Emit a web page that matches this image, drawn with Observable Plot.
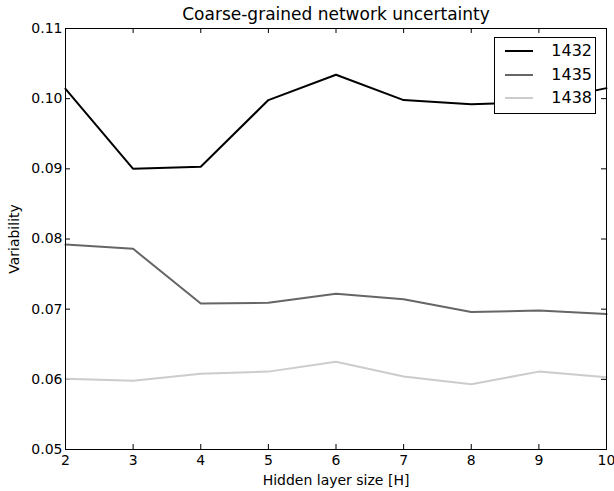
<!DOCTYPE html>
<html>
<head>
<meta charset="utf-8">
<script src="https://cdn.jsdelivr.net/npm/d3@7"></script>
<script src="https://cdn.jsdelivr.net/npm/@observablehq/plot@0.6"></script>
<style>
  html, body { margin: 0; padding: 0; background: #fff; }
  #wrap { position: relative; width: 614px; height: 491px; font-family: "DejaVu Sans", sans-serif; }
  #legend { position: absolute; left: 494px; top: 37px; width: 102px; height: 77px; box-sizing: border-box;
            border: 1px solid #000; background: #fff; font-size: 16px; }
  .row { position: absolute; left: 0; width: 100%; height: 20px; }
  .row svg { position: absolute; left: 10px; top: 4px; }
  .row span { position: absolute; right: 3px; top: 0; line-height: 20px; }
</style>
</head>
<body>
<div id="wrap"></div>
<script>
const hidden = [2, 3, 4, 5, 6, 7, 8, 9, 10];
const seriesNames = ["1432", "1435", "1438"];
const seriesColors = ["#000000", "#666666", "#cccccc"];
const v1432 = [0.1014, 0.0900, 0.0903, 0.0998, 0.1034, 0.0998, 0.0992, 0.0995, 0.1015];
const v1435 = [0.0792, 0.0786, 0.0708, 0.0709, 0.0722, 0.0714, 0.0696, 0.0698, 0.0693];
const v1438 = [0.0601, 0.0598, 0.0608, 0.0611, 0.0625, 0.0604, 0.0593, 0.0611, 0.0603];
const yTicks = [0.05, 0.06, 0.07, 0.08, 0.09, 0.10, 0.11];
const title = "Coarse-grained network uncertainty";
const xLabel = "Hidden layer size [H]";
const yLabel = "Variability";

const allValues = [v1432, v1435, v1438];
const data = [];
allValues.forEach((vals, i) => vals.forEach((v, j) => data.push({h: hidden[j], v, s: seriesNames[i]})));

const W = 614, H = 491, mt = 28, mb = 42, ml = 65, mr = 8;
const ph = H - mt - mb, pw = W - ml - mr, tl = 5;

const chart = Plot.plot({
  width: W, height: H,
  marginTop: mt, marginBottom: mb, marginLeft: ml, marginRight: mr,
  style: {fontFamily: "DejaVu Sans, sans-serif", fontSize: "14px", background: "#fff", overflow: "visible"},
  x: {domain: [2, 10], ticks: hidden},
  y: {domain: [0.05, 0.11], ticks: yTicks},
  color: {domain: seriesNames, range: seriesColors},
  marks: [
    Plot.axisX(hidden, {tickSize: 0, tickPadding: 6, fontSize: 14, label: xLabel, labelAnchor: "center", labelOffset: 35, labelArrow: "none"}),
    Plot.axisY(yTicks, {tickSize: 0, tickPadding: 3, fontSize: 14, tickFormat: d3.format(".2f"), label: yLabel, labelAnchor: "center", labelOffset: 56, labelArrow: "none"}),
    Plot.tickX(hidden, {x: d => d, insetTop: ph - tl, stroke: "#000"}),
    Plot.tickX(hidden, {x: d => d, insetBottom: ph - tl, stroke: "#000"}),
    Plot.tickY(yTicks, {y: d => d, insetLeft: pw - tl, stroke: "#000"}),
    Plot.tickY(yTicks, {y: d => d, insetRight: pw - tl, stroke: "#000"}),
    Plot.line(data, {x: "h", y: "v", z: "s", stroke: "s", strokeWidth: 2, strokeLinejoin: "miter"}),
    Plot.frame({stroke: "#000", strokeWidth: 1}),
    Plot.text([title], {frameAnchor: "top", lineAnchor: "middle", dy: -14, fontSize: 17, fill: "#000"})
  ]
});
const wrap = document.getElementById("wrap");
wrap.appendChild(chart);

const legend = document.createElement("div");
legend.id = "legend";
seriesNames.forEach((name, i) => {
  const row = document.createElement("div");
  row.className = "row";
  row.style.top = (3 + i * 23.5) + "px";
  row.innerHTML = `<svg width="28" height="12"><line x1="0" x2="28" y1="6" y2="6" stroke="${seriesColors[i]}" stroke-width="2"/></svg><span>${name}</span>`;
  legend.appendChild(row);
});
wrap.appendChild(legend);
</script>
</body>
</html>
